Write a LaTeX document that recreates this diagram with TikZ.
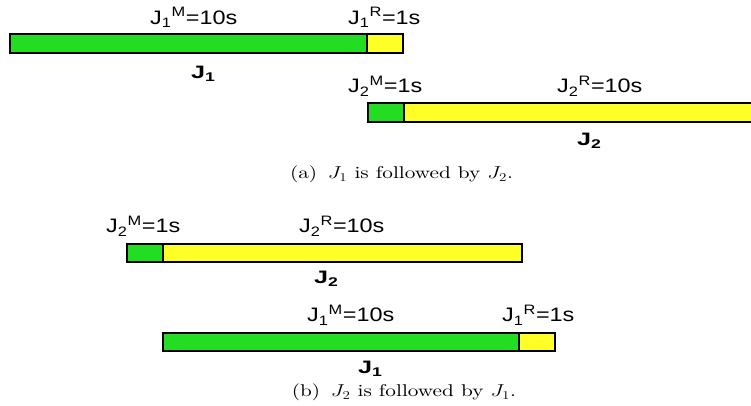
\documentclass[tikz,border=0pt]{standalone}
\usepackage{graphicx}
\usepackage{fontspec}
\newfontfamily\lab{Liberation Sans}
\newfontfamily\capfont{lmroman10-regular}[Extension=.otf]
\definecolor{bargreen}{RGB}{34,221,34}
\definecolor{baryellow}{RGB}{255,255,40}
\newcommand{\subsup}[2]{\textsubscript{#1}\textsuperscript{#2}}
\newcommand{\widelbl}[1]{\scalebox{1.2}[1]{#1}}
\newcommand{\widej}[1]{\scalebox{1.4}[1]{#1}}
\newcommand{\widecap}[1]{\scalebox{1.25}[1]{#1}}
\begin{document}
\begin{tikzpicture}[x=1pt,y=1pt,
  bar/.style={draw=black,line width=1.4pt},
  lbl/.style={anchor=base west,inner sep=0pt,font={\lab\fontsize{19.5}{22}\selectfont}},
  jlbl/.style={anchor=base west,inner sep=0pt,font={\lab\bfseries\fontsize{18}{21}\selectfont}},
  captext/.style={anchor=base,inner sep=0pt,font={\capfont\fontsize{17}{20}\selectfont}}]
\useasboundingbox (0,0) rectangle (751,406);
% (a) J1
\draw[bar,fill=bargreen] (10,353) rectangle (367,372);
\draw[bar,fill=baryellow] (367,353) rectangle (403,372);
\node[lbl] (a1m) at (150,381.7) {\widelbl{J\subsup{1}{M}=10s}};
\node[lbl] (a1r) at (348,381.7) {\widelbl{J\subsup{1}{R}=1s}};
\node[jlbl] (a1) at (191,327.7) {\widej{J\textsubscript{1}}};
% (a) J2
\draw[bar,fill=bargreen] (368,284) rectangle (404,303);
\draw[bar,fill=baryellow] (404,284) rectangle (760,303);
\node[lbl] (a2m) at (348,313) {\widelbl{J\subsup{2}{M}=1s}};
\node[lbl] (a2r) at (557,313) {\widelbl{J\subsup{2}{R}=10s}};
\node[jlbl] (a2) at (577,260) {\widej{J\textsubscript{2}}};
\node[captext] (capa) at (401.5,227) {\widecap{(a)\enspace$J_1$ is followed by $J_2$.}};
% (b) J2
\draw[bar,fill=bargreen] (127,144) rectangle (163,162);
\draw[bar,fill=baryellow] (163,144) rectangle (522,162);
\node[lbl] (b2m) at (106,173) {\widelbl{J\subsup{2}{M}=1s}};
\node[lbl] (b2r) at (299,173) {\widelbl{J\subsup{2}{R}=10s}};
\node[jlbl] (b2) at (314,122) {\widej{J\textsubscript{2}}};
% (b) J1
\draw[bar,fill=bargreen] (163,55) rectangle (519,73);
\draw[bar,fill=baryellow] (519,55) rectangle (555,73);
\node[lbl] (b1m) at (307,84) {\widelbl{J\subsup{1}{M}=10s}};
\node[lbl] (b1r) at (502,84) {\widelbl{J\subsup{1}{R}=1s}};
\node[jlbl] (b1) at (358,32) {\widej{J\textsubscript{1}}};
\node[captext] (capb) at (404,9.3) {\widecap{(b)\enspace$J_2$ is followed by $J_1$.}};
\end{tikzpicture}
\end{document}
